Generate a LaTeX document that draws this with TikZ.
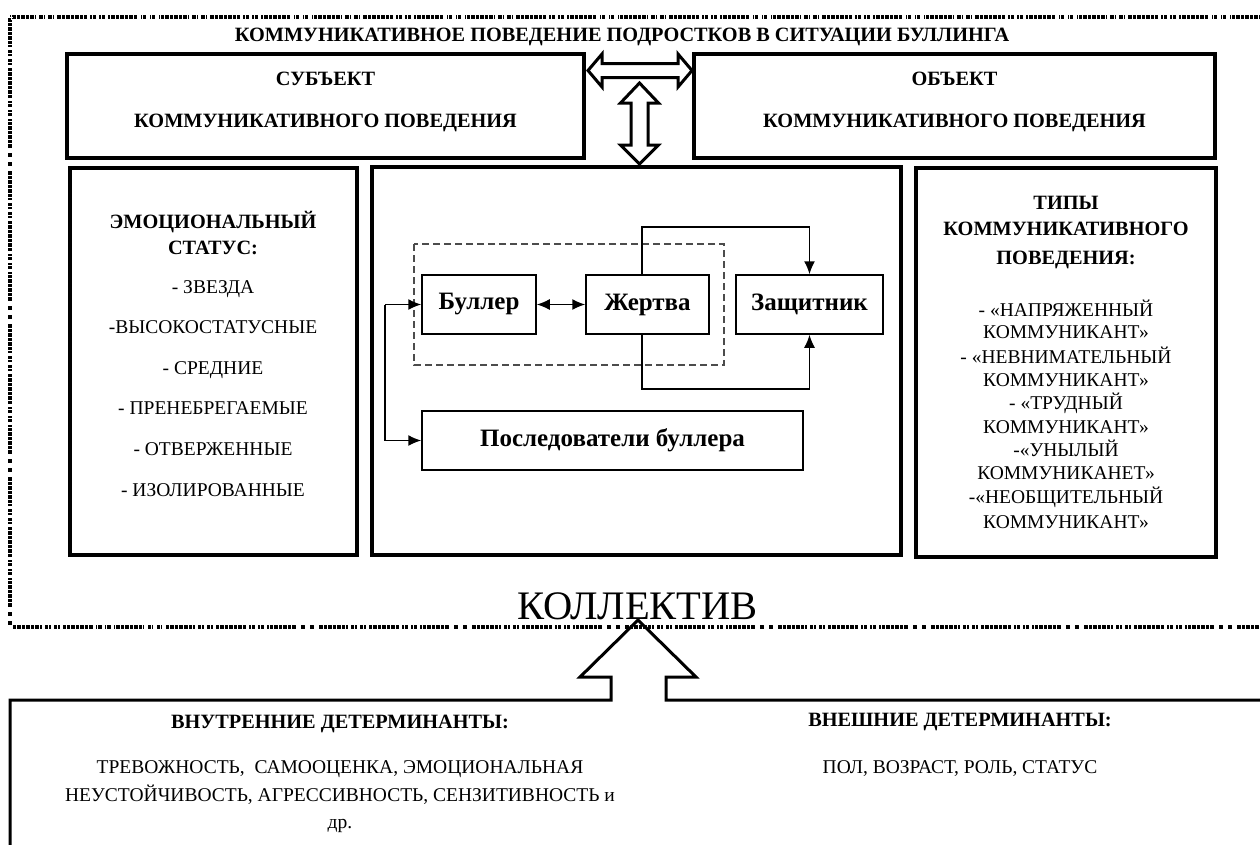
\documentclass[tikz,border=0pt]{standalone}
\usepackage{fontspec}
\setmainfont{Liberation Serif}
\usetikzlibrary{arrows.meta}
\begin{document}
\begin{tikzpicture}[x=1pt,y=-1pt,
  thickbox/.style={draw, line width=4pt, inner sep=0pt},
  smallbox/.style={draw, line width=1.5pt, inner sep=0pt, font=\fontsize{25}{30}\selectfont\bfseries},
  txt/.style={anchor=base, inner sep=0pt, font=\fontsize{19.5}{24}\selectfont},
  btxt/.style={anchor=base, inner sep=0pt, font=\fontsize{20.3}{24}\selectfont\bfseries},
  tip/.tip={Latex[length=13pt,width=11pt]},
  conn/.style={line width=1.5pt, -tip},
  conntwo/.style={line width=1.5pt, tip-tip},
  frame/.style={line width=4pt, dash pattern=on 30pt off 3pt on 6pt off 3pt on 6pt off 3pt},
  framegaps/.style={line width=5pt, draw=white, dash pattern=on 0.7pt off 3.8pt},
  grpline/.style={line width=1.5pt, draw=black!70, dash pattern=on 7pt off 4pt},
  blockarrow/.style={line width=3pt, fill=white, line join=miter},
]
\useasboundingbox (0,0) rectangle (1260,844);
\clip (0,0) rectangle (1260,844);

% outer dotted frame
\draw[frame] (10,17) rectangle (1300,627);
\draw[framegaps] (10,17) rectangle (1300,627);

% title
\node[btxt] (title) at (622,41) {КОММУНИКАТИВНОЕ ПОВЕДЕНИЕ ПОДРОСТКОВ В СИТУАЦИИ БУЛЛИНГА};

% top boxes
\node[thickbox, minimum width=517pt, minimum height=104pt] (subj) at (325.5,106) {};
\node[btxt] (subjA) at (325.5,85) {СУБЪЕКТ};
\node[btxt] (subjB) at (325.5,127) {КОММУНИКАТИВНОГО ПОВЕДЕНИЯ};

\node[thickbox, minimum width=521pt, minimum height=104pt] (obj) at (954.5,106) {};
\node[btxt] (objA) at (954.5,85) {ОБЪЕКТ};
\node[btxt] (objB) at (954.5,127) {КОММУНИКАТИВНОГО ПОВЕДЕНИЯ};

% horizontal double block arrow
\draw[blockarrow] (588,70.5) -- (602,54) -- (602,63.5) -- (678,63.5) -- (678,54) -- (692,70.5)
  -- (678,87) -- (678,77.5) -- (602,77.5) -- (602,87) -- cycle;
% vertical double block arrow
\draw[blockarrow] (639.5,83) -- (658.5,103) -- (648,103) -- (648,145) -- (658.5,145) -- (639.5,164)
  -- (620.5,145) -- (631,145) -- (631,103) -- (620.5,103) -- cycle;

% three main boxes
\node[thickbox, minimum width=287pt, minimum height=387pt] (leftb) at (213.5,361.5) {};
\node[thickbox, minimum width=529pt, minimum height=388pt] (cent) at (636.5,361) {};
\node[thickbox, minimum width=300pt, minimum height=389pt] (rightb) at (1066,362) {};

% left box text
\node[btxt] (e1) at (213,228) {ЭМОЦИОНАЛЬНЫЙ};
\node[btxt] (e2) at (213,254) {СТАТУС:};
\node[txt] (e3) at (213,293) {- ЗВЕЗДА};
\node[txt] (e4) at (213,333) {-ВЫСОКОСТАТУСНЫЕ};
\node[txt] (e5) at (213,374) {- СРЕДНИЕ};
\node[txt] (e6) at (213,414) {- ПРЕНЕБРЕГАЕМЫЕ};
\node[txt] (e7) at (213,455) {- ОТВЕРЖЕННЫЕ};
\node[txt] (e8) at (213,496) {- ИЗОЛИРОВАННЫЕ};

% right box text
\node[btxt] (t1) at (1066,209) {ТИПЫ};
\node[btxt] (t2) at (1066,235) {КОММУНИКАТИВНОГО};
\node[btxt] (t3) at (1066,264) {ПОВЕДЕНИЯ:};
\node[txt] (t4) at (1066,316) {- «НАПРЯЖЕННЫЙ};
\node[txt] (t5) at (1066,338) {КОММУНИКАНТ»};
\node[txt] (t6) at (1066,363) {- «НЕВНИМАТЕЛЬНЫЙ};
\node[txt] (t7) at (1066,386) {КОММУНИКАНТ»};
\node[txt] (t8) at (1066,409) {- «ТРУДНЫЙ};
\node[txt] (t9) at (1066,433) {КОММУНИКАНТ»};
\node[txt] (t10) at (1066,456) {-«УНЫЛЫЙ};
\node[txt] (t11) at (1066,479) {КОММУНИКАНЕТ»};
\node[txt] (t12) at (1066,503) {-«НЕОБЩИТЕЛЬНЫЙ};
\node[txt] (t13) at (1066,528) {КОММУНИКАНТ»};

% centre diagram
\draw[grpline] (414,244) rectangle (724,365);
\node[smallbox, minimum width=114pt, minimum height=59pt] (bul) at (479,304.5) {Буллер};
\node[smallbox, minimum width=123pt, minimum height=59pt] (zh) at (647.5,304.5) {Жертва};
\node[smallbox, minimum width=147pt, minimum height=59pt] (zash) at (809.5,304.5) {Защитник};
\node[smallbox, minimum width=381pt, minimum height=59pt] (fol) at (612.5,440.5) {Последователи буллера};

\coordinate (zt) at (642,227);
\coordinate (zb) at (642,389);
\coordinate (lc) at (385,304.5);
\draw[conn] (zh.north -| zt) -- (zt) -| (zash.north);
\draw[conn] (zh.south -| zb) -- (zb) -| (zash.south);
\draw[conntwo] (bul.east) -- (zh.west);
\draw[conn] (lc) -- (bul.west);
\draw[conn] (lc) |- (fol.west);

% collective
\node[anchor=base, inner sep=0pt, font=\fontsize{40.5}{44}\selectfont] (koll) at (637.5,619) {КОЛЛЕКТИВ};

% bottom frame with big arrow
\draw[line width=3pt, line join=miter] (1300,700) -- (666,700) -- (666,677) -- (696,677) -- (638,620)
  -- (580,677) -- (611,677) -- (611,700) -- (10,700) -- (10,860);

% bottom texts
\node[btxt] (in1) at (340,728) {ВНУТРЕННИЕ ДЕТЕРМИНАНТЫ:};
\node[txt] (in2) at (340,773) {ТРЕВОЖНОСТЬ,\ \ САМООЦЕНКА, ЭМОЦИОНАЛЬНАЯ};
\node[txt] (in3) at (340,801) {НЕУСТОЙЧИВОСТЬ, АГРЕССИВНОСТЬ, СЕНЗИТИВНОСТЬ и};
\node[txt] (in4) at (340,828) {др.};
\node[btxt] (ex1) at (960,726) {ВНЕШНИЕ ДЕТЕРМИНАНТЫ:};
\node[txt] (ex2) at (960,773) {ПОЛ, ВОЗРАСТ, РОЛЬ, СТАТУС};
\end{tikzpicture}
\end{document}
